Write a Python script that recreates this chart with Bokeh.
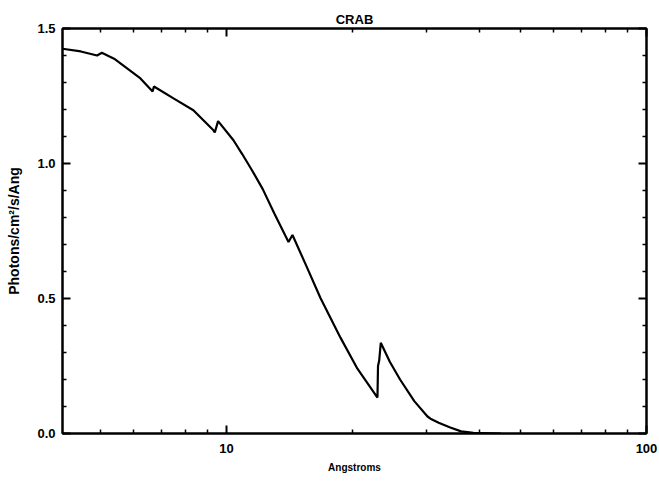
from bokeh.plotting import figure
from bokeh.models import LogAxis, LinearAxis, FixedTicker, Range1d, NumeralTickFormatter
from bokeh.embed import file_html
from bokeh.resources import INLINE

# Wavelength (Angstroms) and flux (Photons/cm^2/s/Ang)
wavelength = [4.07, 4.5, 4.92, 5.05, 5.4, 5.8, 6.24, 6.67, 6.72, 7.48, 8.34, 9.31, 9.38,
              9.55, 10.39, 10.9, 11.5, 12.2, 13.0, 14.05, 14.36, 15.5, 16.74,
              18.68, 20.5, 22.88, 22.95, 23.1, 23.3, 24.5, 25.9, 28.0, 30.1, 30.6,
              32.0, 34.1, 36.2, 38.7, 45.0]
flux = [1.425, 1.415, 1.400, 1.410, 1.388, 1.352, 1.315, 1.267, 1.285, 1.241, 1.197,
        1.123, 1.115, 1.157, 1.086, 1.035, 0.975, 0.905, 0.815, 0.709, 0.735,
        0.620, 0.502, 0.355, 0.240, 0.133, 0.250, 0.270, 0.336, 0.265, 0.200, 0.120,
        0.063, 0.055, 0.040, 0.022, 0.008, 0.002, 0.0]

x_major = [10, 100]
x_minor = [5, 6, 7, 8, 9, 20, 30, 40, 50, 60, 70, 80, 90]
y_major = [0.0, 0.5, 1.0, 1.5]
y_minor = [0.1, 0.2, 0.3, 0.4, 0.6, 0.7, 0.8, 0.9, 1.1, 1.2, 1.3, 1.4]

FONT = "Liberation Sans"

p = figure(width=659, height=475, x_axis_type="log",
           x_range=Range1d(4.07, 100), y_range=Range1d(0, 1.5),
           output_backend="svg", toolbar_location=None,
           min_border_left=62, min_border_right=13, min_border_bottom=41, min_border_top=28)

p.line(wavelength, flux, line_color="black", line_width=2.2)

p.grid.visible = False
p.outline_line_color = "black"
p.outline_line_width = 2

p.title.text = "CRAB"
p.title.align = "center"
p.title.text_font = FONT
p.title.text_font_size = "13px"
p.title.text_font_style = "bold"
p.title.text_color = "black"
p.title.offset = 0
p.title.standoff = 3

xt = FixedTicker(ticks=x_major, minor_ticks=x_minor)
yt = FixedTicker(ticks=y_major, minor_ticks=y_minor)

def style(ax, labels=True):
    ax.axis_line_color = "black"
    ax.axis_line_width = 2
    ax.major_tick_line_width = 2
    ax.minor_tick_line_width = 1.5
    ax.major_tick_in = 8
    ax.major_tick_out = 0
    ax.minor_tick_in = 4
    ax.minor_tick_out = 0
    if labels:
        ax.major_label_text_font = FONT
        ax.major_label_text_font_style = "bold"
        ax.major_label_text_font_size = "13px"
        ax.major_label_text_color = "black"
        ax.axis_label_text_font = FONT
        ax.axis_label_text_font_style = "bold"
        ax.axis_label_text_color = "black"
    else:
        ax.major_label_text_font_size = "1px"
        ax.major_label_text_alpha = 0
        ax.major_label_standoff = 0

xa = p.xaxis[0]
xa.ticker = xt
xa.formatter = NumeralTickFormatter(format="0")
xa.axis_label = "Angstroms"
xa.major_label_standoff = 10
xa.axis_label_standoff = 6
style(xa)
xa.axis_label_text_font_size = "10px"

ya = p.yaxis[0]
ya.ticker = yt
ya.formatter = NumeralTickFormatter(format="0.0")
ya.axis_label = "Photons/cm²/s/Ang"
ya.major_label_standoff = 7
ya.axis_label_standoff = 12
style(ya)
ya.axis_label_text_font_size = "14px"

top = LogAxis(ticker=xt)
style(top, labels=False)
p.add_layout(top, "above")

right = LinearAxis(ticker=yt)
style(right, labels=False)
p.add_layout(right, "right")

open("out.html", "w").write(file_html(p, INLINE))
